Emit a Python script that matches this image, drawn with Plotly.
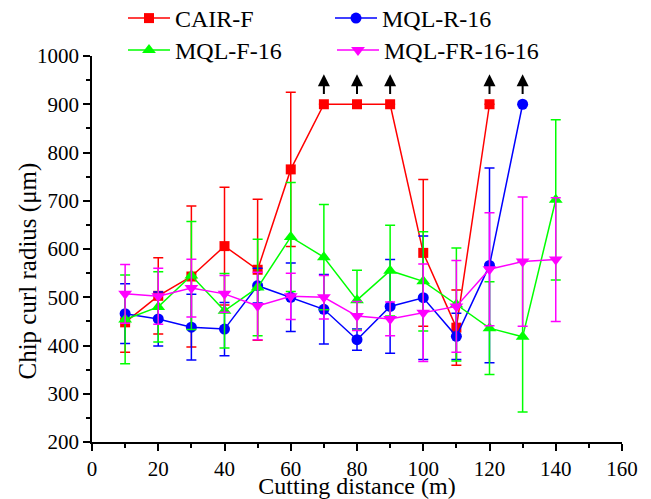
import plotly.graph_objects as go

# ---- data ----
x_cair = [10, 20, 30, 40, 50, 60, 70, 80, 90, 100, 110, 120]
y_cair = [448, 503, 543, 606, 557, 765, 900, 900, 900, 592, 437, 900]
e_cair = [62, 79, 146, 122, 146, 160, None, None, None, 152, 78, None]

x_r16 = [10, 20, 30, 40, 50, 60, 70, 80, 90, 100, 110, 120, 130]
y_r16 = [466, 455, 438, 434, 524, 500, 475, 412, 481, 499, 419, 566, 900]
e_r16 = [62, 56, 68, 55, 36, 71, 72, 22, 97, 128, 48, 202, None]

x_f16 = [10, 20, 30, 40, 50, 60, 70, 80, 90, 100, 110, 120, 130, 140]
y_f16 = [454, 480, 545, 472, 520, 625, 583, 494, 555, 533, 485, 436, 418, 702]
e_f16 = [92, 73, 112, 77, 100, 113, 109, 62, 94, 103, 117, 96, 156, 166]

x_fr = [10, 20, 30, 40, 50, 60, 70, 80, 90, 100, 110, 120, 130, 140]
y_fr = [507, 502, 519, 507, 482, 502, 500, 461, 455, 468, 481, 558, 574, 578]
e_fr = [61, 58, 60, 38, 70, 48, 45, 30, 35, 101, 95, 117, 134, 128]

# points beyond measurement range (marked with an arrow)
cap_value = 900

x_title = "Cutting distance (m)"
y_title = "Chip curl radius (μm)"

FONT = "Liberation Serif"

# page body has an 8px default margin -> size the figure to fit the window
W, H = 643, 491
ML, MR, MT, MB = 84, 29, 48, 57
PW = W - ML - MR
PH = H - MT - MB

series = [
    ("CAIR-F", x_cair, y_cair, e_cair, "#FF0000", "square", 10, "legend"),
    ("MQL-R-16", x_r16, y_r16, e_r16, "#0000FF", "circle", 11, "legend2"),
    ("MQL-F-16", x_f16, y_f16, e_f16, "#00FF00", "triangle-up", 12, "legend3"),
    ("MQL-FR-16-16", x_fr, y_fr, e_fr, "#FF00FF", "triangle-down", 12, "legend4"),
]

fig = go.Figure()
for name, xs, ys, es, col, sym, sz, lg in series:
    fig.add_trace(go.Scatter(
        x=xs, y=ys, name=name, mode="lines+markers", legend=lg,
        line=dict(color=col, width=1.5),
        marker=dict(symbol=sym, size=sz, color=col),
        error_y=dict(type="data", array=es, visible=True, color=col,
                     thickness=1.5, width=5),
    ))

# arrows above capped points
for name, xs, ys, es, col, sym, sz, lg in series:
    for xv, yv in zip(xs, ys):
        if yv >= cap_value:
            fig.add_annotation(
                x=xv, y=yv + 62, ax=xv, ay=yv + 18,
                xref="x", yref="y", axref="x", ayref="y",
                showarrow=True, arrowhead=2, arrowsize=1.2,
                arrowwidth=2, arrowcolor="black", text="",
            )

# y-axis title
fig.add_annotation(
    text=y_title, textangle=-90, showarrow=False,
    xref="paper", yref="paper",
    x=(19 - ML) / PW, y=1 - (263.5 - MT) / PH,
    xanchor="center", yanchor="middle",
    font=dict(family=FONT, size=25, color="black"),
)

axis_common = dict(
    showline=True, linecolor="black", linewidth=1.5,
    ticks="outside", ticklen=7, tickwidth=1.5, tickcolor="black",
    showgrid=False, zeroline=False, mirror=False,
    tickfont=dict(family=FONT, size=21, color="black"),
)

fig.update_xaxes(
    range=[0, 160], dtick=20, tick0=0,
    minor=dict(dtick=10, ticks="outside", ticklen=4, tickwidth=1.5,
               tickcolor="black", showgrid=False),
    title=dict(text=x_title, standoff=0,
               font=dict(family=FONT, size=24, color="black")),
    **axis_common,
)
fig.update_yaxes(
    range=[200, 1000], dtick=100, tick0=200,
    minor=dict(dtick=50, ticks="outside", ticklen=4, tickwidth=1.5,
               tickcolor="black", showgrid=False),
    **axis_common,
)


def leg(xpx, top_px):
    return dict(
        orientation="h", xref="container", yref="paper",
        x=xpx / W, y=1 + (MT - top_px) / PH,
        xanchor="left", yanchor="top",
        font=dict(family=FONT, size=24, color="black"),
        itemwidth=42, bgcolor="rgba(0,0,0,0)",
    )


fig.update_layout(
    width=W, height=H,
    margin=dict(l=ML, r=MR, t=MT, b=MB, autoexpand=False),
    plot_bgcolor="white", paper_bgcolor="white",
    font=dict(family=FONT, color="black"),
    showlegend=True,
    legend=leg(115, -12),
    legend2=leg(322, -12),
    legend3=leg(115, 20),
    legend4=leg(324, 20),
)

fig.write_html("out.html")
